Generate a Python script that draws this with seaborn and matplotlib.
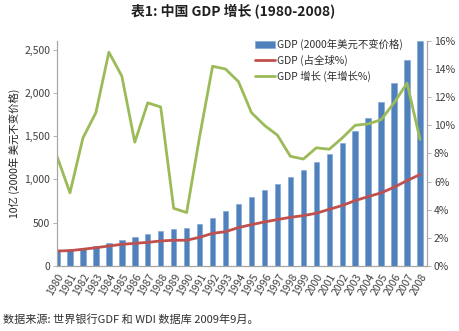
import numpy as np
import pandas as pd
import matplotlib
matplotlib.use("Agg")
import matplotlib.pyplot as plt
import seaborn as sns
from matplotlib.ticker import FuncFormatter

years = list(range(1980, 2009))
gdp_bn = [182, 193, 208, 231, 270, 300, 331, 370, 408, 424, 443, 485, 551, 632, 715,
          795, 874, 951, 1025, 1105, 1202, 1298, 1415, 1558, 1715, 1896, 2115, 2385, 2600]
share_pct = [1.07, 1.09, 1.19, 1.30, 1.42, 1.54, 1.61, 1.68, 1.78, 1.83, 1.83, 2.04, 2.32, 2.44, 2.73,
             2.94, 3.13, 3.30, 3.46, 3.58, 3.75, 4.03, 4.30, 4.65, 4.93, 5.20, 5.60, 6.07, 6.50]
growth_pct = [7.8, 5.2, 9.1, 10.9, 15.2, 13.5, 8.8, 11.6, 11.3, 4.1, 3.8, 9.2, 14.2, 14.0, 13.1,
              10.9, 10.0, 9.3, 7.8, 7.6, 8.4, 8.3, 9.1, 10.0, 10.1, 10.4, 11.6, 13.0, 9.0]

title = "表1: 中国 GDP 增长 (1980-2008)"
ylabel = "10亿 (2000年 美元不变价格)"
lab_bar = "GDP (2000年美元不变价格)"
lab_share = "GDP (占全球%)"
lab_growth = "GDP 增长 (年增长%)"
source = "数据来源: 世界银行GDF 和 WDI 数据库 2009年9月。"

sns.set_theme(style="white")
plt.rcParams['font.family'] = ['Noto Sans CJK SC', 'DejaVu Sans']

df = pd.DataFrame({"year": years, "gdp": gdp_bn, "share": share_pct, "growth": growth_pct})

fig = plt.figure(figsize=(4.6, 3.31), dpi=100)
ax = fig.add_axes([0.1239, 0.1964, 0.8044, 0.680])
ax2 = ax.twinx()

sns.barplot(data=df, x="year", y="gdp", native_scale=True, width=0.42,
            color="#4F81BD", saturation=1, edgecolor="#7EA3D2", linewidth=0.4,
            label=lab_bar, ax=ax)
sns.lineplot(data=df, x="year", y="share", color="#C0504D", lw=2.0, label=lab_share, ax=ax2)
sns.lineplot(data=df, x="year", y="growth", color="#9BBB59", lw=2.0, label=lab_growth, ax=ax2)

ax.set_xlim(1980, 2008.54)
ax.set_ylim(0, 2600)
ax2.set_ylim(0, 16)
ax.set_yticks(range(0, 2501, 500))
ax.yaxis.set_major_formatter(FuncFormatter(lambda v, p: f"{int(v):,}"))
ax2.set_yticks(range(0, 17, 2))
ax2.yaxis.set_major_formatter(FuncFormatter(lambda v, p: f"{int(v)}%"))
ax.set_xticks(years)
ax.set_xticklabels([str(y) for y in years], rotation=60, ha="right", rotation_mode="anchor")

tc = "#404040"
for a in (ax, ax2):
    a.set_xlabel("")
    a.spines["top"].set_visible(False)
    for s in ("left", "right", "bottom"):
        a.spines[s].set_color("#A6A6A6")
        a.spines[s].set_linewidth(0.8)
    a.tick_params(axis="both", labelsize=7.5, colors=tc, length=3, width=0.6, direction="out")
    a.tick_params(axis="both", color="#A6A6A6")
    a.grid(False)
ax2.set_ylabel("")
ax.set_ylabel(ylabel, fontsize=7.5, color="#202020", labelpad=3)
ax.tick_params(axis="x", pad=1)
ax.tick_params(axis="y", pad=2)
ax2.tick_params(axis="y", pad=2)

h1, l1 = ax.get_legend_handles_labels()
h2, l2 = ax2.get_legend_handles_labels()
if ax2.get_legend():
    ax2.get_legend().remove()
if ax.get_legend():
    ax.get_legend().remove()
fig.legend(h1 + h2, l1 + l2, loc="upper left", bbox_to_anchor=(0.533, 0.91),
           frameon=False, fontsize=7.5, handlelength=2.0, handletextpad=0.2,
           labelspacing=0.45, labelcolor="#303030")

fig.text(0.507, 0.965, title, ha="center", va="center", fontsize=10, fontweight="bold", color="#202020")
fig.text(0.006, 0.035, source, ha="left", va="center", fontsize=8, color="#303030")

fig.savefig("out.png", dpi=100)
